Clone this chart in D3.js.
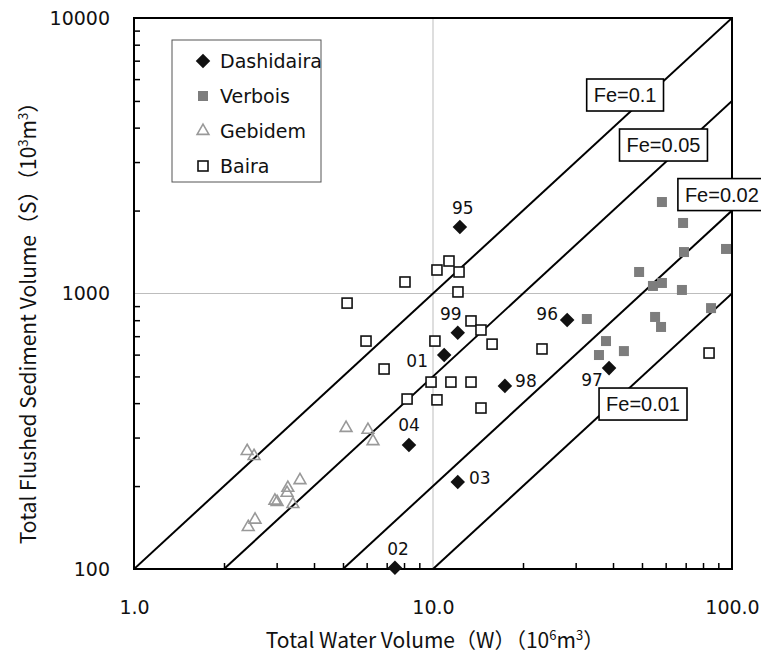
<!DOCTYPE html>
<html>
<head>
<meta charset="utf-8">
<script src="https://cdn.jsdelivr.net/npm/d3@7"></script>
<style>
  html, body { margin: 0; padding: 0; background: #fff; }
  svg { display: block; }
</style>
</head>
<body>
<svg id="chart" width="761" height="659"></svg>
<script>
// ---------------- data ----------------
const xTickValues = [1, 10, 100];
const xTickLabels = ["1.0", "10.0", "100.0"];
const yTickValues = [100, 1000, 10000];
const yTickLabels = ["100", "1000", "10000"];
const xMinorTicks = [2,3,4,5,6,7,8,9,20,30,40,50,60,70,80,90];
const yMinorTicks = [200,300,400,500,600,700,800,900,2000,3000,4000,5000,6000,7000,8000,9000];

const seriesNames = ["Dashidaira", "Verbois", "Gebidem", "Baira"];

// Dashidaira: W (10^6 m3), S (10^3 m3), year label
const dashidairaW = [12.3, 12.1, 10.9, 17.4, 28.1, 38.8, 8.31, 12.1, 7.46];
const dashidairaS = [1742, 720, 598, 462, 801, 536, 282, 207, 101];
const dashidairaYear = ["95", "99", "01", "98", "96", "97", "04", "03", "02"];

const verboisW = [58.3, 68.6, 95.5, 69.1, 48.9, 54.4, 58.3, 68.0, 85.1, 32.7, 55.3, 57.9, 37.9, 43.5, 35.9];
const verboisS = [2148, 1803, 1451, 1414, 1197, 1065, 1092, 1030, 885, 808, 822, 756, 672, 618, 598];

const gebidemW = [2.39, 2.52, 5.12, 6.06, 6.30, 3.59, 3.27, 3.25, 3.01, 2.96, 3.40, 2.54, 2.41];
const gebidemS = [268, 257, 325, 320, 291, 210, 197, 189, 175, 177, 172, 151, 142];

const bairaW = [11.31, 10.31, 12.22, 8.06, 12.12, 5.16, 13.40, 14.47, 10.15, 5.97, 15.76, 23.15, 6.86, 83.8, 9.85, 11.48, 13.40, 8.19, 10.31, 14.47];
const bairaS = [1312, 1217, 1197, 1101, 1013, 923, 795, 737, 672, 672, 655, 629, 532, 608, 477, 477, 477, 414, 411, 384];

// Efficiency lines S = Fe * W * 1000
const feValues = [0.1, 0.05, 0.02, 0.01];
const feLabels = ["Fe=0.1", "Fe=0.05", "Fe=0.02", "Fe=0.01"];
// label box centres, in data units (W, S)
const feLabelW = [43.9, 59.0, 92.5, 50.4];
const feLabelS = [5254, 3459, 2286, 397];

// ---------------- layout ----------------
const L = 134, R = 732, T = 18, B = 569;
const svg = d3.select("#chart");
const x = d3.scaleLog().domain([1, 100]).range([L, R]);
const y = d3.scaleLog().domain([100, 10000]).range([B, T]);

svg.append("defs").append("clipPath").attr("id", "plotclip")
  .append("rect").attr("x", L).attr("y", T).attr("width", R - L).attr("height", B - T);

// grid lines
svg.append("line").attr("x1", x(10)).attr("x2", x(10)).attr("y1", T).attr("y2", B)
  .attr("stroke", "#bdbdbd").attr("stroke-width", 1);
svg.append("line").attr("x1", L).attr("x2", R).attr("y1", y(1000)).attr("y2", y(1000))
  .attr("stroke", "#bdbdbd").attr("stroke-width", 1);

// Fe lines
const lineG = svg.append("g").attr("clip-path", "url(#plotclip)");
feValues.forEach(fe => {
  const w0 = 0.1 / fe;
  const w1 = 100;
  lineG.append("line")
    .attr("x1", x(w0)).attr("y1", y(fe * w0 * 1000))
    .attr("x2", x(w1)).attr("y2", y(fe * w1 * 1000))
    .attr("stroke", "#000").attr("stroke-width", 2);
});

// minor ticks (inside)
const minorX = svg.append("g").attr("transform", `translate(0,${B})`)
  .call(d3.axisBottom(x).tickValues(xMinorTicks).tickSize(-6).tickFormat(""));
minorX.select(".domain").remove();
minorX.selectAll("line").attr("stroke", "#000").attr("stroke-width", 1.5);
const minorY = svg.append("g").attr("transform", `translate(${L},0)`)
  .call(d3.axisLeft(y).tickValues(yMinorTicks).tickSize(-6).tickFormat(""));
minorY.select(".domain").remove();
minorY.selectAll("line").attr("stroke", "#000").attr("stroke-width", 1.5);

// axis labels
const tickFont = "'DejaVu Sans', sans-serif";
const xAx = svg.append("g").attr("transform", `translate(0,${B})`)
  .call(d3.axisBottom(x).tickValues(xTickValues).tickSize(0).tickPadding(32)
        .tickFormat((d, i) => xTickLabels[i]));
xAx.select(".domain").remove();
xAx.selectAll("text").attr("font-family", tickFont).attr("font-size", 19).attr("fill", "#111");
const yAx = svg.append("g").attr("transform", `translate(${L},0)`)
  .call(d3.axisLeft(y).tickValues(yTickValues).tickSize(0).tickPadding(24)
        .tickFormat((d, i) => yTickLabels[i]));
yAx.select(".domain").remove();
yAx.selectAll("text").attr("font-family", tickFont).attr("font-size", 19).attr("fill", "#111");

// plot frame
svg.append("rect").attr("x", L).attr("y", T).attr("width", R - L).attr("height", B - T)
  .attr("fill", "none").attr("stroke", "#000").attr("stroke-width", 2);

// ---------------- markers ----------------
const pts = svg.append("g");
function drawSquares(W, S, fill, stroke, size, sw) {
  pts.selectAll(null).data(W.map((w, i) => [w, S[i]])).enter().append("rect")
    .attr("x", d => x(d[0]) - size / 2).attr("y", d => y(d[1]) - size / 2)
    .attr("width", size).attr("height", size)
    .attr("fill", fill).attr("stroke", stroke).attr("stroke-width", sw);
}
const triPath = d3.symbol().type(d3.symbolTriangle).size(60);
function drawTriangles(W, S) {
  pts.selectAll(null).data(W.map((w, i) => [w, S[i]])).enter().append("path")
    .attr("d", triPath)
    .attr("transform", d => `translate(${x(d[0])},${y(d[1])})`)
    .attr("fill", "none").attr("stroke", "#999").attr("stroke-width", 1.6);
}
const diamond = d3.symbol().type(d3.symbolDiamond2).size(135);
function drawDiamonds(W, S) {
  pts.selectAll(null).data(W.map((w, i) => [w, S[i]])).enter().append("path")
    .attr("d", diamond)
    .attr("transform", d => `translate(${x(d[0])},${y(d[1])})`)
    .attr("fill", "#111");
}
drawSquares(bairaW, bairaS, "#fff", "#111", 10, 1.6);
drawTriangles(gebidemW, gebidemS);
drawSquares(verboisW, verboisS, "#7d7d7d", "none", 10, 0);
drawDiamonds(dashidairaW, dashidairaS);

// year labels for Dashidaira
const yearOffsets = {"95":[3,-19],"99":[-7,-19],"01":[-27,6],"98":[21,-5],"96":[-20,-6],
                     "97":[-17,12],"04":[0,-20],"03":[22,-4],"02":[3,-19]};
svg.append("g").selectAll("text").data(dashidairaYear).enter().append("text")
  .attr("x", (d, i) => x(dashidairaW[i]) + yearOffsets[d][0])
  .attr("y", (d, i) => y(dashidairaS[i]) + yearOffsets[d][1])
  .attr("text-anchor", "middle").attr("dominant-baseline", "central")
  .attr("font-family", "'DejaVu Sans', sans-serif").attr("font-size", 17).attr("fill", "#111")
  .text(d => d);

// Fe label boxes
feLabels.forEach((lab, i) => {
  const cx = x(feLabelW[i]), cy = y(feLabelS[i]);
  const g = svg.append("g");
  const t = g.append("text").attr("x", cx).attr("y", cy)
    .attr("text-anchor", "middle").attr("dominant-baseline", "central")
    .attr("font-family", "'Liberation Sans', Arial, sans-serif").attr("font-size", 20).attr("fill", "#111")
    .text(lab);
  const bb = t.node().getBBox();
  g.insert("rect", "text")
    .attr("x", bb.x - 7).attr("y", cy - 16).attr("width", bb.width + 14).attr("height", 32)
    .attr("fill", "#fff").attr("stroke", "#000").attr("stroke-width", 1.6);
});

// legend
const lg = svg.append("g");
lg.append("rect").attr("x", 172).attr("y", 40).attr("width", 149).attr("height", 142)
  .attr("fill", "#fff").attr("stroke", "#555").attr("stroke-width", 1);
seriesNames.forEach((name, i) => {
  const cy = 61 + i * 35, mx = 203;
  if (i === 0) lg.append("path").attr("d", diamond).attr("transform", `translate(${mx},${cy})`).attr("fill", "#111");
  if (i === 1) lg.append("rect").attr("x", mx - 5).attr("y", cy - 5).attr("width", 10).attr("height", 10).attr("fill", "#7d7d7d");
  if (i === 2) lg.append("path").attr("d", triPath).attr("transform", `translate(${mx},${cy})`).attr("fill", "none").attr("stroke", "#999").attr("stroke-width", 1.6);
  if (i === 3) lg.append("rect").attr("x", mx - 5).attr("y", cy - 5).attr("width", 10).attr("height", 10).attr("fill", "#fff").attr("stroke", "#111").attr("stroke-width", 1.6);
  lg.append("text").attr("x", 220).attr("y", cy).attr("dominant-baseline", "central")
    .attr("font-family", "'DejaVu Sans', sans-serif").attr("font-size", 19).attr("fill", "#111")
    .text(name);
});

// axis titles
const titleFont = "'Noto Sans CJK JP', sans-serif";
const xt = svg.append("text").attr("x", 435).attr("y", 648).attr("text-anchor", "middle")
  .attr("font-family", titleFont).attr("font-size", 21).attr("fill", "#111");
xt.append("tspan").text("Total Water Volume（W）（10");
xt.append("tspan").attr("font-size", 13).attr("dy", -8).text("6");
xt.append("tspan").attr("dy", 8).text("m");
xt.append("tspan").attr("font-size", 13).attr("dy", -8).text("3");
xt.append("tspan").attr("dy", 8).text("）");

const yt = svg.append("text").attr("transform", "translate(36,318) rotate(-90)").attr("text-anchor", "middle")
  .attr("font-family", titleFont).attr("font-size", 21).attr("fill", "#111");
yt.append("tspan").text("Total Flushed Sediment Volume（S）（10");
yt.append("tspan").attr("font-size", 13).attr("dy", -8).text("3");
yt.append("tspan").attr("dy", 8).text("m");
yt.append("tspan").attr("font-size", 13).attr("dy", -8).text("3");
yt.append("tspan").attr("dy", 8).text("）");
</script>
</body>
</html>
